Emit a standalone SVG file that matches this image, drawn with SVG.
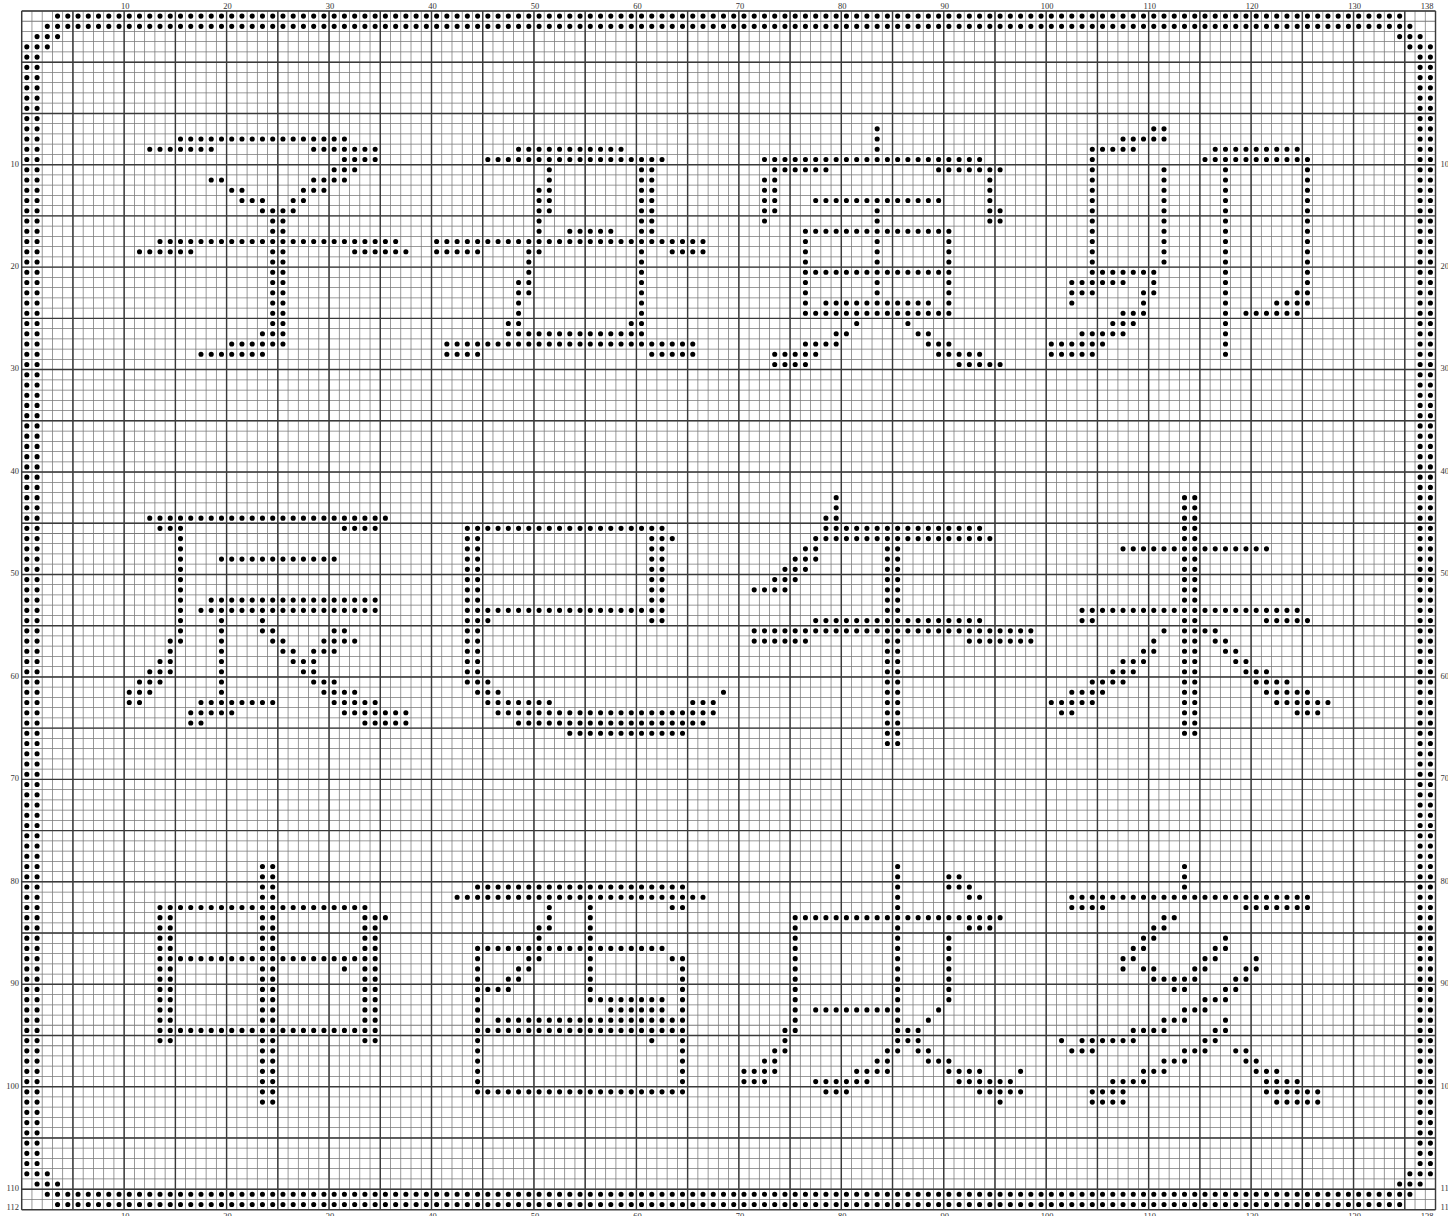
<svg xmlns="http://www.w3.org/2000/svg" width="1448" height="1216" viewBox="0 0 1448 1216">
<style>
.dots{fill:none;stroke:#000;stroke-width:0.5;stroke-linecap:round;stroke-dasharray:0 1}
.lbl{font-family:"Liberation Serif","DejaVu Serif",serif;font-size:8.5px;fill:#333}
.mid{text-anchor:middle}
.end{text-anchor:end}
</style>
<rect width="1448" height="1216" fill="#fff"/>
<g id="grid" transform="translate(21.7 11) scale(10.245)" fill="none">
<path d="M-0.5 58.5H138.5" stroke="#7a7a7a" stroke-width="117" stroke-dasharray="0.075 0.925" stroke-dashoffset="0.5375"/>
<path d="M69 -0.5V117.5" stroke="#7a7a7a" stroke-width="138" stroke-dasharray="0.075 0.925" stroke-dashoffset="0.5375"/>
<path d="M-0.5 58.5H136" stroke="#3a3a3a" stroke-width="117" stroke-dasharray="0.14 4.86" stroke-dashoffset="4.57"/>
<path d="M69 -0.5V116" stroke="#3a3a3a" stroke-width="138" stroke-dasharray="0.14 4.86" stroke-dashoffset="4.57"/>
<path d="M138 0V117M0 117H138" stroke="#3a3a3a" stroke-width="0.14"/>
</g>
<g id="labels" class="lbl">
<g class="mid">
<text x="125.2" y="9.3">10</text><text x="227.6" y="9.3">20</text><text x="330" y="9.3">30</text><text x="432.5" y="9.3">40</text><text x="535" y="9.3">50</text><text x="637.4" y="9.3">60</text><text x="739.9" y="9.3">70</text><text x="842.3" y="9.3">80</text><text x="944.8" y="9.3">90</text><text x="1047.2" y="9.3">100</text><text x="1149.7" y="9.3">110</text><text x="1252.1" y="9.3">120</text><text x="1354.6" y="9.3">130</text><text x="1427" y="9.3">138</text>
<text x="125.2" y="1219">10</text><text x="227.6" y="1219">20</text><text x="330" y="1219">30</text><text x="432.5" y="1219">40</text><text x="535" y="1219">50</text><text x="637.4" y="1219">60</text><text x="739.9" y="1219">70</text><text x="842.3" y="1219">80</text><text x="944.8" y="1219">90</text><text x="1047.2" y="1219">100</text><text x="1149.7" y="1219">110</text><text x="1252.1" y="1219">120</text><text x="1354.6" y="1219">130</text><text x="1427" y="1219">138</text>
</g>
<g class="end">
<text x="19" y="166.5">10</text><text x="19" y="268.9">20</text><text x="19" y="371.4">30</text><text x="19" y="473.8">40</text><text x="19" y="576.3">50</text><text x="19" y="678.7">60</text><text x="19" y="781.2">70</text><text x="19" y="883.6">80</text><text x="19" y="986.1">90</text><text x="19" y="1088.5">100</text><text x="19" y="1191">110</text><text x="19" y="1209.5">112</text>
</g>
<g>
<text x="1440.5" y="166.5">10</text><text x="1440.5" y="268.9">20</text><text x="1440.5" y="371.4">30</text><text x="1440.5" y="473.8">40</text><text x="1440.5" y="576.3">50</text><text x="1440.5" y="678.7">60</text><text x="1440.5" y="781.2">70</text><text x="1440.5" y="883.6">80</text><text x="1440.5" y="986.1">90</text><text x="1440.5" y="1088.5">100</text><text x="1440.5" y="1191">110</text><text x="1440.5" y="1209.5">112</text>
</g>
</g>
<g transform="translate(21.7 11) scale(10.245)">
<g id="border"><path class="dots" d="M3.5 .5h131.01M2.5 1.5h133.01M1.5 2.5h2.01M134.5 2.5h2.01M.5 3.5h2.01M135.5 3.5h2.01M.5 4.5v108.01M1.5 4.5v108.01M136.5 4.5v108.01M137.5 4.5v108.01M.5 113.5h2.01M135.5 113.5h2.01M1.5 114.5h2.01M134.5 114.5h2.01M2.5 115.5h133.01M3.5 116.5h131.01"/></g>
<g id="char-zi"><path class="dots" d="M15.5 12.5h16.01M12.5 13.5h6.01M28.5 13.5h6.01M31.5 14.5h3.01M30.5 15.5h2.01M18.5 16.5h1.01M28.5 16.5h3.01M20.5 17.5h1.01M27.5 17.5h2.01M21.5 18.5h2.01M26.5 18.5h1.01M23.5 19.5h3.01M24.5 19.5v13.01M25.5 19.5v13.01M13.5 22.5h23.01M11.5 23.5h5.01M32.5 23.5h5.01M23.5 31.5h.01M20.5 32.5h5.01M17.5 33.5h6.01"/></g>
<g id="char-chou"><path class="dots" d="M48.5 13.5h10.01M45.5 14.5h17.01M60.5 14.5v17.01M61.5 15.5v6.01M51.5 15.5v4.01M50.5 17.5v6.01M53.5 21.5h4.01M40.5 22.5h26.01M40.5 23.5h4.01M49.5 23.5h.01M63.5 23.5h3.01M49.5 23.5v4.01M48.5 26.5v5.01M47.5 30.5h.01M59.5 30.5h.01M47.5 31.5h13.01M41.5 32.5h24.01M41.5 33.5h3.01M61.5 33.5h4.01"/></g>
<g id="char-yin"><path class="dots" d="M83.5 11.5v3.01M83.5 18.5v11.01M72.5 14.5h21.01M73.5 15.5h5.01M89.5 15.5h6.01M72.5 16.5v4.01M73.5 16.5v3.01M94.5 16.5v4.01M95.5 19.5v1.01M77.5 18.5h12.01M76.5 21.5v8.01M90.5 21.5v8.01M76.5 21.5h14.01M76.5 25.5h14.01M78.5 28.5h10.01M76.5 29.5h14.01M81.5 30.5h.01M86.5 30.5h.01M79.5 31.5h1.01M87.5 31.5h1.01M76.5 32.5h3.01M88.5 32.5h2.01M73.5 33.5h4.01M89.5 33.5h4.01M73.5 34.5h3.01M91.5 34.5h4.01"/></g>
<g id="char-mao"><path class="dots" d="M110.5 11.5h1.01M107.5 12.5h4.01M104.5 13.5h4.01M116.5 13.5h8.01M115.5 14.5h10.01M104.5 13.5v14.01M111.5 15.5v9.01M117.5 13.5v20.01M125.5 14.5v14.01M104.5 25.5h6.01M102.5 26.5h5.01M110.5 26.5h.01M102.5 27.5h2.01M109.5 27.5h1.01M124.5 27.5h.01M102.5 28.5h.01M109.5 28.5h.01M122.5 28.5h3.01M107.5 29.5h2.01M119.5 29.5h5.01M106.5 30.5h2.01M103.5 31.5h4.01M100.5 32.5h5.01M100.5 33.5h4.01"/></g>
<g id="char-chen"><path class="dots" d="M12.5 49.5h23.01M13.5 50.5h2.01M31.5 50.5h3.01M15.5 50.5v11.01M19.5 53.5h11.01M18.5 57.5h16.01M17.5 58.5h17.01M19.5 58.5v9.01M23.5 59.5h.01M23.5 60.5h1.01M30.5 60.5h1.01M14.5 61.5h.01M24.5 61.5h1.01M29.5 61.5h3.01M14.5 62.5h.01M25.5 62.5h1.01M28.5 62.5h2.01M13.5 63.5h1.01M26.5 63.5h2.01M12.5 64.5h2.01M27.5 64.5h1.01M11.5 65.5h2.01M28.5 65.5h2.01M10.5 66.5h2.01M29.5 66.5h3.01M10.5 67.5h1.01M17.5 67.5h7.01M30.5 67.5h4.01M16.5 68.5h4.01M31.5 68.5h6.01M16.5 69.5h1.01M33.5 69.5h4.01"/></g>
<g id="char-si"><path class="dots" d="M43.5 50.5h19.01M43.5 50.5v15.01M44.5 50.5v16.01M61.5 50.5v9.01M62.5 50.5v9.01M63.5 51.5h.01M43.5 58.5h19.01M45.5 59.5h.01M45.5 65.5h.01M44.5 66.5h2.01M68.5 66.5h.01M45.5 67.5h6.01M65.5 67.5h2.01M46.5 68.5h21.01M48.5 69.5h18.01M53.5 70.5h11.01"/></g>
<g id="char-wu"><path class="dots" d="M79.5 47.5v4.01M78.5 49.5h.01M78.5 50.5h15.01M77.5 51.5h17.01M76.5 52.5h1.01M75.5 53.5h2.01M74.5 54.5h2.01M73.5 55.5h2.01M71.5 56.5h3.01M84.5 52.5v19.01M85.5 52.5v19.01M77.5 59.5h16.01M71.5 60.5h27.01M71.5 61.5h5.01M92.5 61.5h6.01"/></g>
<g id="char-wei"><path class="dots" d="M113.5 47.5v23.01M114.5 47.5v23.01M107.5 52.5h14.01M103.5 58.5h21.01M103.5 59.5h1.01M121.5 59.5h4.01M111.5 60.5h.01M115.5 60.5h1.01M110.5 61.5h.01M116.5 61.5h1.01M109.5 62.5h1.01M117.5 62.5h1.01M107.5 63.5h2.01M118.5 63.5h1.01M106.5 64.5h2.01M119.5 64.5h2.01M104.5 65.5h3.01M120.5 65.5h3.01M102.5 66.5h3.01M121.5 66.5h4.01M100.5 67.5h4.01M122.5 67.5h5.01M101.5 68.5h1.01M124.5 68.5h2.01"/></g>
<g id="char-shen"><path class="dots" d="M23.5 83.5v23.01M24.5 83.5v23.01M13.5 87.5h20.01M13.5 87.5v13.01M14.5 87.5v13.01M33.5 88.5v12.01M34.5 88.5v12.01M35.5 88.5h.01M13.5 92.5h21.01M31.5 93.5h.01M13.5 99.5h21.01"/></g>
<g id="char-you"><path class="dots" d="M44.5 85.5h20.01M42.5 86.5h24.01M51.5 87.5v2.01M55.5 87.5v9.01M63.5 87.5h1.01M50.5 89.5v1.01M44.5 91.5h18.01M44.5 91.5v14.01M64.5 92.5v13.01M63.5 92.5h.01M49.5 92.5h1.01M48.5 93.5h1.01M47.5 94.5h1.01M44.5 95.5h3.01M56.5 96.5h6.01M57.5 97.5h5.01M46.5 98.5h17.01M44.5 99.5h20.01M61.5 100.5h.01M44.5 105.5h20.01"/></g>
<g id="char-xu"><path class="dots" d="M85.5 83.5v15.01M90.5 84.5h1.01M90.5 85.5h2.01M92.5 86.5h1.01M75.5 88.5h20.01M92.5 89.5h2.01M75.5 88.5v10.01M74.5 99.5h1.01M74.5 100.5h.01M73.5 101.5h1.01M72.5 102.5h1.01M70.5 103.5h3.01M70.5 104.5h2.01M90.5 90.5v6.01M77.5 97.5h8.01M89.5 97.5h.01M88.5 98.5h.01M85.5 99.5h2.01M85.5 100.5h2.01M84.5 101.5h1.01M87.5 101.5h1.01M83.5 102.5h1.01M88.5 102.5h2.01M81.5 103.5h3.01M90.5 103.5h3.01M97.5 103.5h.01M77.5 104.5h5.01M91.5 104.5h5.01M78.5 105.5h2.01M93.5 105.5h4.01M95.5 106.5h.01"/></g>
<g id="char-hai"><path class="dots" d="M113.5 83.5v2.01M102.5 86.5h23.01M102.5 87.5h3.01M119.5 87.5h6.01M111.5 88.5h1.01M110.5 89.5h1.01M109.5 90.5h1.01M117.5 90.5h.01M108.5 91.5h1.01M116.5 91.5h1.01M107.5 92.5h1.01M115.5 92.5h1.01M120.5 92.5h.01M107.5 93.5h.01M109.5 93.5h1.01M114.5 93.5h1.01M119.5 93.5h1.01M110.5 94.5h4.01M118.5 94.5h1.01M112.5 95.5h1.01M117.5 95.5h1.01M115.5 96.5h2.01M113.5 97.5h2.01M111.5 98.5h2.01M117.5 98.5h.01M108.5 99.5h3.01M116.5 99.5h1.01M101.5 100.5h.01M103.5 100.5h5.01M115.5 100.5h1.01M102.5 101.5h2.01M113.5 101.5h2.01M118.5 101.5h1.01M111.5 102.5h2.01M119.5 102.5h1.01M109.5 103.5h2.01M120.5 103.5h2.01M106.5 104.5h3.01M121.5 104.5h3.01M104.5 105.5h3.01M121.5 105.5h5.01M104.5 106.5h3.01M122.5 106.5h4.01"/></g>
</g>
</svg>
